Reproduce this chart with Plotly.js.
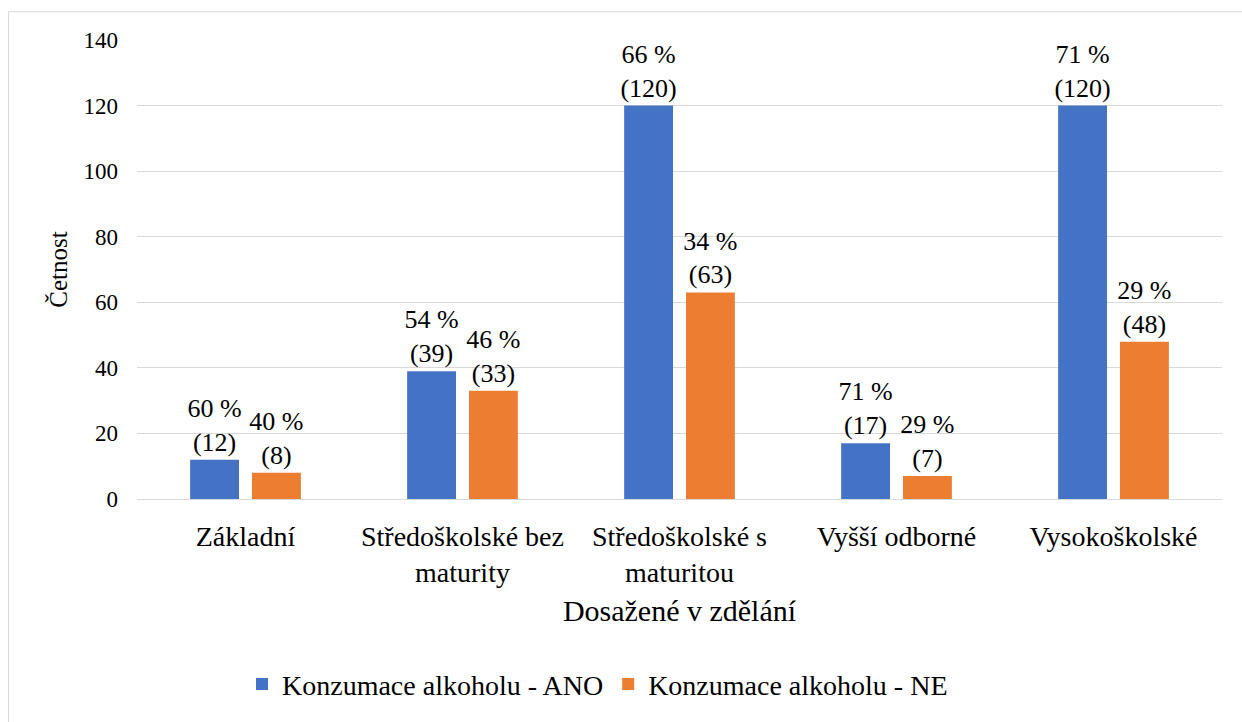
<!DOCTYPE html>
<html>
<head>
<meta charset="utf-8">
<script src="https://cdn.plot.ly/plotly-3.0.1.min.js"></script>
<style>
#chart text { font-family: 'Liberation Serif' !important; }
</style>
</head>
<body style="margin:0">
<div id="chart"></div>
<script>
const categories = ["Základní", "Středoškolské bez<br>maturity", "Středoškolské s<br>maturitou", "Vyšší odborné", "Vysokoškolské"];
const seriesNames = ["Konzumace alkoholu - ANO", "Konzumace alkoholu - NE"];
const valuesAno = [12, 39, 120, 17, 120];
const valuesNe = [8, 33, 63, 7, 48];
const percentAno = [60, 54, 66, 71, 71];
const percentNe = [40, 46, 34, 29, 29];
const yTicks = [0, 20, 40, 60, 80, 100, 120, 140];

const FONT = 'Liberation Serif';
function labels(vals, pcts) { return vals.map((v, i) => pcts[i] + ' %<br>(' + v + ')'); }

const traces = [
  {type: 'bar', name: seriesNames[0], x: categories, y: valuesAno,
   marker: {color: '#4472C4'}, text: labels(valuesAno, percentAno),
   textposition: 'outside', cliponaxis: false, constraintext: 'none', hoverinfo: 'none',
   textfont: {family: FONT, size: 26, color: '#000'}},
  {type: 'bar', name: seriesNames[1], x: categories, y: valuesNe,
   marker: {color: '#ED7D31'}, text: labels(valuesNe, percentNe),
   textposition: 'outside', cliponaxis: false, constraintext: 'none', hoverinfo: 'none',
   textfont: {family: FONT, size: 26, color: '#000'}}
];

const L = 137, R = 1222, T = 40, B = 503, W = 1242, H = 722;
const px = v => (v - L) / (R - L);
const py = v => (B - v) / (B - T);

const layout = {
  width: W, height: H,
  margin: {l: L, r: W - R, t: T, b: H - B, pad: 0},
  paper_bgcolor: '#fff', plot_bgcolor: '#fff',
  font: {family: FONT, size: 24, color: '#000'},
  barmode: 'group', bargap: 0.43, bargroupgap: 0.21,
  showlegend: true,
  legend: {orientation: 'h', x: px(242), xanchor: 'left', y: py(690), yanchor: 'middle',
           font: {family: FONT, size: 28, color: '#000'}, itemwidth: 30, traceorder: 'normal'},
  xaxis: {type: 'category', showgrid: false, showline: false, zeroline: false, ticks: '',
          tickfont: {family: FONT, size: 28, color: '#000'}, ticklabelstandoff: 18,
          title: {text: 'Dosažené v zdělání', font: {family: FONT, size: 30, color: '#000'}, standoff: 12}},
  yaxis: {range: [0, 140], tickvals: yTicks, showgrid: true, gridcolor: '#d9d9d9', gridwidth: 1,
          zeroline: true, zerolinecolor: '#d9d9d9', zerolinewidth: 1, showline: false, ticks: '',
          tickfont: {family: FONT, size: 23, color: '#000'}, ticklabelstandoff: 18,
          title: {text: 'Četnost', font: {family: FONT, size: 25, color: '#000'}, standoff: 8}},
  shapes: [{type: 'rect', xref: 'paper', yref: 'paper', x0: px(8.5), x1: px(1260), y0: py(740), y1: py(11.5),
            line: {color: '#d9d9d9', width: 1}, fillcolor: 'rgba(0,0,0,0)', layer: 'below'}]
};

Plotly.newPlot('chart', traces, layout, {displayModeBar: false});
</script>
</body>
</html>
